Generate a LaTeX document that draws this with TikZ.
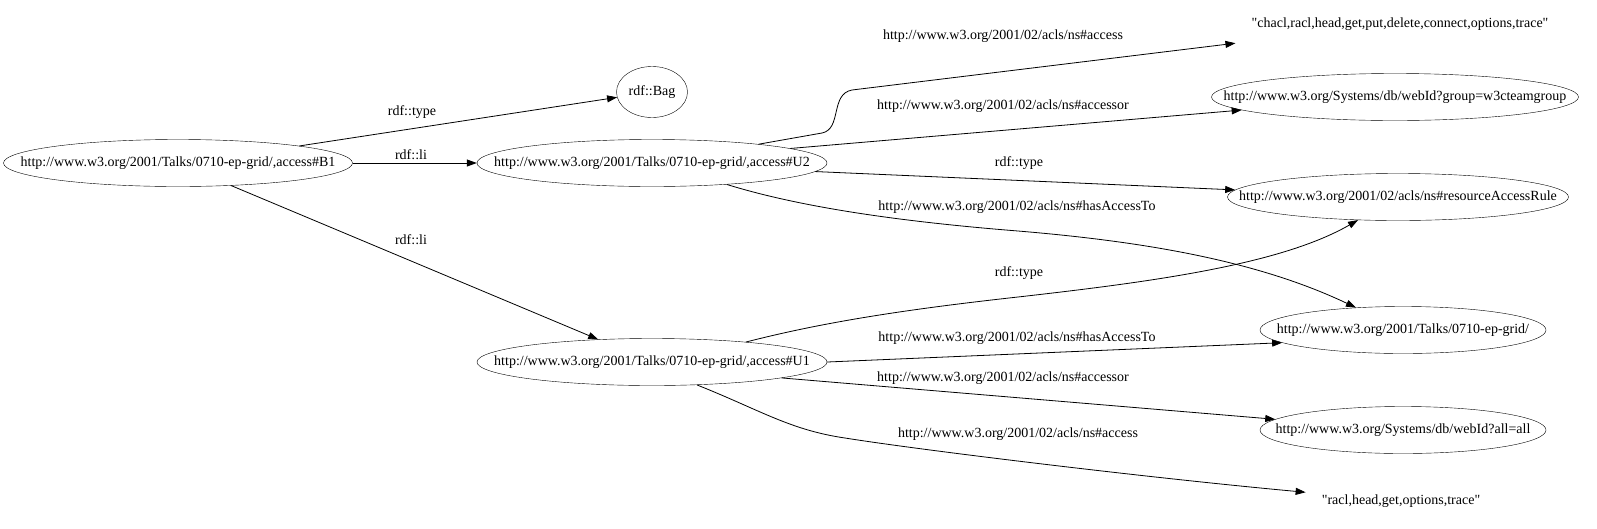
\documentclass[tikz,border=0pt]{standalone}
\usepackage{fontspec}
\setmainfont{Liberation Serif}
\usetikzlibrary{shapes.geometric,arrows.meta}
\newcommand{\nar}[1]{\makebox[0pt]{#1}}

\begin{document}
\begin{tikzpicture}[x=1pt, y=-1pt, font=\fontsize{14}{16}\selectfont,
  ent/.style={ellipse, draw, inner sep=0pt, minimum height=47pt},
  lit/.style={inner xsep=16pt, minimum height=38pt},
  edge/.style={-{Triangle[length=10pt,width=7pt]}, line width=0.8pt}]
  \useasboundingbox (0,0) rectangle (1597,528);
  \node[ent, minimum width=349pt] (b1) at (178,163) {\nar{http://www.w3.org/2001/Talks/0710-ep-grid/,access\#B1}};
  \node[ent, minimum width=350pt] (u2) at (652,163) {\nar{http://www.w3.org/2001/Talks/0710-ep-grid/,access\#U2}};
  \node[ent, minimum width=350pt] (u1) at (652,362) {\nar{http://www.w3.org/2001/Talks/0710-ep-grid/,access\#U1}};
  \node[ent, minimum width=71pt, minimum height=51pt] (bag) at (652,92) {\nar{rdf::Bag}};
  \node[lit] (chacl) at (1400,24) {\textquotedbl chacl,racl,head,get,put,delete,connect,options,trace\textquotedbl};
  \node[ent, minimum width=367pt] (group) at (1395,97) {\nar{http://www.w3.org/Systems/db/webId?group=w3cteamgroup}};
  \node[ent, minimum width=341pt] (rule) at (1398,197) {\nar{http://www.w3.org/2001/02/acls/ns\#resourceAccessRule}};
  \node[ent, minimum width=286pt] (grid) at (1403,330) {\nar{http://www.w3.org/2001/Talks/0710-ep-grid/}};
  \node[ent, minimum width=286pt] (all) at (1403,430) {\nar{http://www.w3.org/Systems/db/webId?all=all}};
  \node[lit] (racl) at (1401,501) {\textquotedbl racl,head,get,options,trace\textquotedbl};

  \draw[edge] (b1.8) -- (bag);
  \draw[edge] (b1) -- (u2);
  \draw[edge] (b1.-23) -- (u1);
  \draw[edge] (u2.10) -- (822,133) .. controls (842,129) and (830,94) .. (852,90) -- (chacl.south west);
  \draw[edge] (u2.6) -- (group);
  \draw[edge] (u2.-3) -- (rule);
  \draw[edge] (u2.-16) .. controls (790,204) and (880,220) .. (1018,231) .. controls (1150,242) and (1260,262) .. (grid);
  \draw[edge] (u1.12) .. controls (820,323) and (900,310) .. (1018,297) .. controls (1150,282) and (1280,265) .. (rule);
  \draw[edge] (u1.east) -- (grid.186);
  \draw[edge] (u1.-7) -- (all);
  \draw[edge] (u1.-27) .. controls (760,410) and (790,430) .. (845,438) .. controls (920,450) and (1150,478) .. (racl);

  \node (lbag) at (412,112) {rdf::type};
  \node (lli) at (411,155) {rdf::li};
  \node (lli2) at (411,240) {rdf::li};
  \node (lacc2) at (1003,36) {http://www.w3.org/2001/02/acls/ns\#access};
  \node (lwho2) at (1003,106) {http://www.w3.org/2001/02/acls/ns\#accessor};
  \node (ltype2) at (1019,163) {rdf::type};
  \node (lto2) at (1017,207) {http://www.w3.org/2001/02/acls/ns\#hasAccessTo};
  \node (ltype1) at (1019,273) {rdf::type};
  \node (lto1) at (1017,338) {http://www.w3.org/2001/02/acls/ns\#hasAccessTo};
  \node (lwho1) at (1003,378) {http://www.w3.org/2001/02/acls/ns\#accessor};
  \node (lacc1) at (1018,434) {http://www.w3.org/2001/02/acls/ns\#access};
\end{tikzpicture}
\end{document}
